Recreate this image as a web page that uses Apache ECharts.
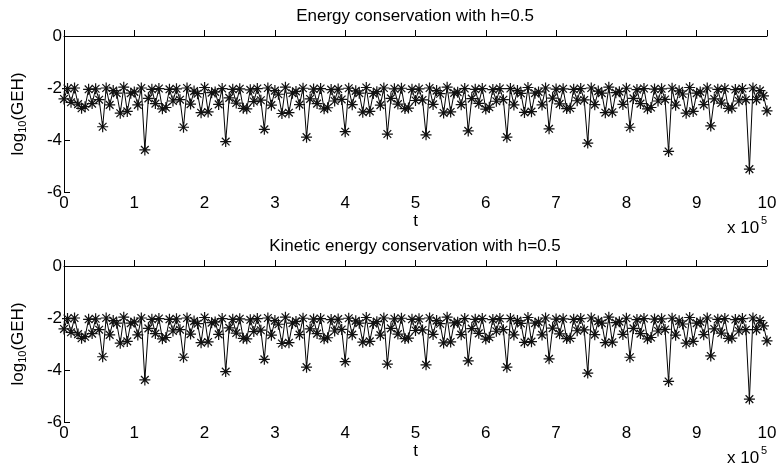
<!DOCTYPE html>
<html>
<head>
<meta charset="utf-8">
<script src="https://cdn.jsdelivr.net/npm/echarts@6/dist/echarts.min.js"></script>
<style>html,body{margin:0;padding:0;background:#fff;}#c{width:781px;height:469px;}</style>
</head>
<body>
<div id="c"></div>
<script>
// time step between samples (t = index * tStep)
const tStep = 5000;
const xTicks = [0,1,2,3,4,5,6,7,8,9,10];
const yTicks = [-6,-4,-2,0];
const titles = ['Energy conservation with h=0.5', 'Kinetic energy conservation with h=0.5'];

// log10(GEH), energy
const energyValues = [
 -2.42,-2.02,-2.55,-2.0,-2.62,-2.78,-2.72,-2.05,-2.6,-2.03,-2.45,
 -3.49,
 -2.0,-2.65,-2.1,-2.2,-2.97,-1.97,-2.9,-2.2,-2.15,-2.65,-2.0,
 -4.38,
 -2.4,-2.05,-2.6,-2.02,-2.8,-2.75,-2.05,-2.5,-2.03,-2.45,
 -3.51,
 -2.0,-2.62,-2.12,-2.22,-2.95,-1.98,-2.92,-2.18,-2.15,-2.63,-2.02,
 -4.06,
 -2.38,-2.05,-2.58,-2.03,-2.78,-2.8,-2.07,-2.52,-2.02,-2.47,
 -3.59,
 -2.0,-2.66,-2.1,-2.24,-2.98,-1.97,-2.95,-2.2,-2.13,-2.64,-2.01,
 -3.89,
 -2.42,-2.04,-2.6,-2.02,-2.8,-2.76,-2.06,-2.5,-2.04,-2.44,
 -3.68,
 -2.01,-2.64,-2.11,-2.2,-2.93,-1.98,-2.9,-2.21,-2.14,-2.66,-2.0,
 -3.77,
 -2.4,-2.03,-2.62,-2.01,-2.79,-2.77,-2.05,-2.48,-2.03,-2.46,
 -3.80,
 -2.0,-2.63,-2.1,-2.22,-2.96,-1.97,-2.92,-2.19,-2.16,-2.64,-2.02,
 -3.65,
 -2.41,-2.05,-2.59,-2.02,-2.81,-2.74,-2.06,-2.51,-2.02,-2.45,
 -3.89,
 -2.02,-2.65,-2.1,-2.21,-2.94,-1.98,-2.91,-2.2,-2.15,-2.65,-2.0,
 -3.57,
 -2.39,-2.04,-2.61,-2.03,-2.79,-2.78,-2.05,-2.49,-2.02,-2.46,
 -4.12,
 -2.0,-2.64,-2.12,-2.2,-2.95,-1.97,-2.93,-2.18,-2.14,-2.63,-2.01,
 -3.51,
 -2.4,-2.06,-2.6,-2.02,-2.8,-2.75,-2.04,-2.5,-2.03,-2.44,
 -4.44,
 -2.01,-2.66,-2.11,-2.23,-2.97,-1.98,-2.9,-2.2,-2.15,-2.64,-2.0,
 -3.46,
 -2.42,-2.05,-2.58,-2.02,-2.78,-2.77,-2.06,-2.5,-2.02,-2.45,
 -5.12,
 -2.0,-2.45,-2.1,-2.3,-2.88
];

// log10(GEH), kinetic energy (visually identical to energy)
const kineticValues = energyValues.slice();

const star = 'path://M-0.55,-5L0.55,-5L0.55,5L-0.55,5Z' +
  'M-5,-0.55L5,-0.55L5,0.55L-5,0.55Z' +
  'M-3.9,-3.1L-3.1,-3.9L3.9,3.1L3.1,3.9Z' +
  'M3.1,-3.9L3.9,-3.1L-3.1,3.9L-3.9,3.1Z';

const FONT = 'Liberation Sans, Arial, sans-serif';
const FS = 17;

function pairs(vals){ return vals.map((v,i)=>[i*tStep, v]); }

const grids = [
  {left:64, right:14, top:36, height:156},
  {left:64, right:14, top:266, height:156}
];

function xAx(i){
  return {
    type:'value', gridIndex:i, min:0, max:1e6, interval:1e5,
    name:'t', nameLocation:'middle', nameGap:18,
    nameTextStyle:{color:'#000', fontFamily:FONT, fontSize:FS},
    axisLine:{lineStyle:{color:'#000', width:1}},
    axisTick:{inside:true, length:6, lineStyle:{color:'#000'}},
    axisLabel:{color:'#000', fontFamily:FONT, fontSize:FS, margin:3,
      formatter:v=>{const k=Math.round(v/1e5); return xTicks.indexOf(k)>=0?String(k):'';}},
    splitLine:{show:false}
  };
}
function yAx(i){
  return {
    type:'value', gridIndex:i, min:-6, max:0, interval:2,
    name:'log{sub|10}(GEH)', nameLocation:'middle', nameGap:36, nameRotate:90,
    nameTextStyle:{color:'#000', fontFamily:FONT, fontSize:FS,
      rich:{sub:{fontSize:11, verticalAlign:'bottom', padding:[8,0,0,0], fontFamily:FONT, color:'#000'}}},
    axisLine:{show:true, lineStyle:{color:'#000', width:1}},
    axisTick:{show:true, inside:true, length:6, lineStyle:{color:'#000'}},
    axisLabel:{color:'#000', fontFamily:FONT, fontSize:FS, margin:2,
      formatter:v=>yTicks.indexOf(v)>=0?String(v):''},
    splitLine:{show:false}
  };
}
function ser(i, vals){
  return {
    type:'line', xAxisIndex:i, yAxisIndex:i, data:pairs(vals),
    symbol:star, symbolSize:11, showAllSymbol:true,
    lineStyle:{color:'#000', width:1},
    itemStyle:{color:'#111'},
    animation:false
  };
}
function expo(y){
  return [
    {type:'text', x:727, y:y, style:{text:'x 10', font:FS+'px '+FONT, fill:'#000', textVerticalAlign:'middle'}},
    {type:'text', x:761, y:y-7, style:{text:'5', font:'11px '+FONT, fill:'#000', textVerticalAlign:'middle'}}
  ];
}
function ttl(text, y){
  return {type:'text', x:415, y:y, style:{text:text, font:FS+'px '+FONT, fill:'#000', textAlign:'center', textVerticalAlign:'middle'}};
}

const chart = echarts.init(document.getElementById('c'), null, {renderer:'canvas'});
chart.setOption({
  backgroundColor:'#fff',
  animation:false,
  grid:grids,
  xAxis:[xAx(0), xAx(1)],
  yAxis:[yAx(0), yAx(1)],
  series:[ser(0, energyValues), ser(1, kineticValues)],
  graphic:[ttl(titles[0], 16), ttl(titles[1], 246)].concat(expo(228)).concat(expo(458))
});
</script>
</body>
</html>
